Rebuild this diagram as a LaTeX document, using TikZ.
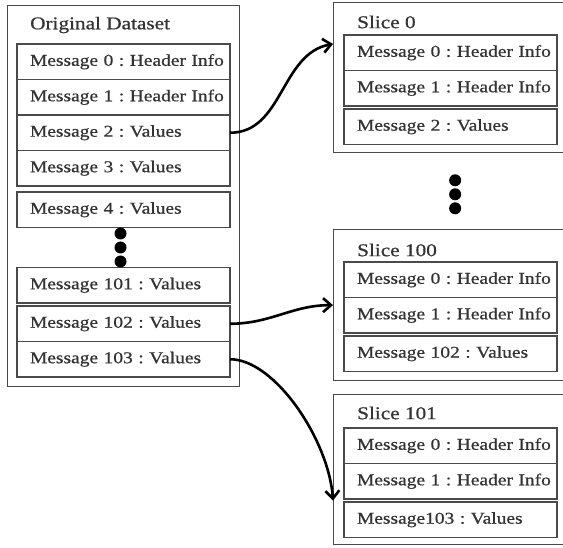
\documentclass[tikz,border=0pt]{standalone}
\usepackage{fontspec}
\setmainfont{Liberation Serif}[FakeStretch=1.18,FakeBold=0.7]
\usetikzlibrary{positioning,arrows.meta,calc}
\definecolor{boxgray}{HTML}{4a4a4a}
\definecolor{inkgray}{HTML}{333333}
\frenchspacing

\tikzset{
  frame/.style={draw=boxgray, line width=1.3pt, anchor=north west, inner sep=0pt},
  msg/.style={draw=boxgray, line width=1.4pt, minimum height=35.5pt, inner xsep=13pt,
              outer sep=0pt, text width=187pt, align=left, text=inkgray,
              font=\fontsize{16.5}{19}\selectfont,
              execute at begin node={\hbox\bgroup}, execute at end node={\egroup}},
  ttl/.style={inner sep=0pt, anchor=west, text=inkgray, font=\fontsize{18}{21}\selectfont},
  link/.style={-{Straight Barb[length=8pt,width=14pt]}, line width=2.6pt, black},
}

\begin{document}
\begin{tikzpicture}[x=1pt,y=-1pt]
   \useasboundingbox (0,0) rectangle (563,548);

   % original dataset
   \node[frame, minimum width=232pt, minimum height=381pt] (orig) at (7,5) {};
   \node[ttl] (origtitle) at (30,25) {Original Dataset};
   \node[msg, anchor=north west] (m0) at (17,44) {Message 0 : Header Info};
   \node[msg] (m1) [below=0pt of m0] {Message 1 : Header Info};
   \node[msg] (m2) [below=0pt of m1] {Message 2 : Values};
   \node[msg] (m3) [below=0pt of m2] {Message 3 : Values};
   \node[msg] (m4) [below=6pt of m3] {Message 4 : Values};
   \node[msg] (m101) [below=40pt of m4] {Message 101 : Values};
   \node[msg] (m102) [below=3pt of m101] {Message 102 : Values};
   \node[msg] (m103) [below=0pt of m102] {Message 103 : Values};
   \foreach \k in {0,1,2}
     \fill ([xshift=-3pt,yshift={-(6+14*\k)*1pt}]m4.south) circle (6pt);

   % slice 0
   \node[frame, minimum width=233pt, minimum height=150pt] (slice0) at (333,2) {};
   \node[ttl] (s0title) at ([shift={(24,20)}]slice0.north west) {Slice 0};
   \node[msg, anchor=north west] (s0m0) at ([shift={(11,33)}]slice0.north west) {Message 0 : Header Info};
   \node[msg] (s0m1) [below=0pt of s0m0] {Message 1 : Header Info};
   \node[msg] (s0m2) [below=3pt of s0m1] {Message 2 : Values};
   \foreach \k in {0,1,2}
     \fill ([xshift=5pt,yshift={-(27+14*\k)*1pt}]slice0.south) circle (6pt);

   % slice 100
   \node[frame, minimum width=233pt, minimum height=151pt] (slice100) at (333,229) {};
   \node[ttl] (s100title) at ([shift={(24,21)}]slice100.north west) {Slice 100};
   \node[msg, anchor=north west] (s100m0) at ([shift={(11,33)}]slice100.north west) {Message 0 : Header Info};
   \node[msg] (s100m1) [below=0pt of s100m0] {Message 1 : Header Info};
   \node[msg] (s100m2) [below=3pt of s100m1] {Message 102 : Values};

   % slice 101
   \node[frame, minimum width=233pt, minimum height=150pt] (slice101) at (333,394) {};
   \node[ttl] (s101title) at ([shift={(24,19)}]slice101.north west) {Slice 101};
   \node[msg, anchor=north west] (s101m0) at ([shift={(11,34)}]slice101.north west) {Message 0 : Header Info};
   \node[msg] (s101m1) [below=0pt of s101m0] {Message 1 : Header Info};
   \node[msg] (s101m2) [below=3pt of s101m1] {Message103 : Values};

   % arrows
   \coordinate (in0) at ([yshift=-42pt]slice0.north west);
   \coordinate (in101) at ([yshift=-31pt]slice101.west);
   \draw[link] (m2.east) to[out=0,in=190] (in0);
   \draw[link] (m102.east) to[out=0,in=180] (slice100.west);
   \draw[link] (m103.east) .. controls +(45,0) and +(-4,-60) .. (in101);
\end{tikzpicture}
\end{document}
